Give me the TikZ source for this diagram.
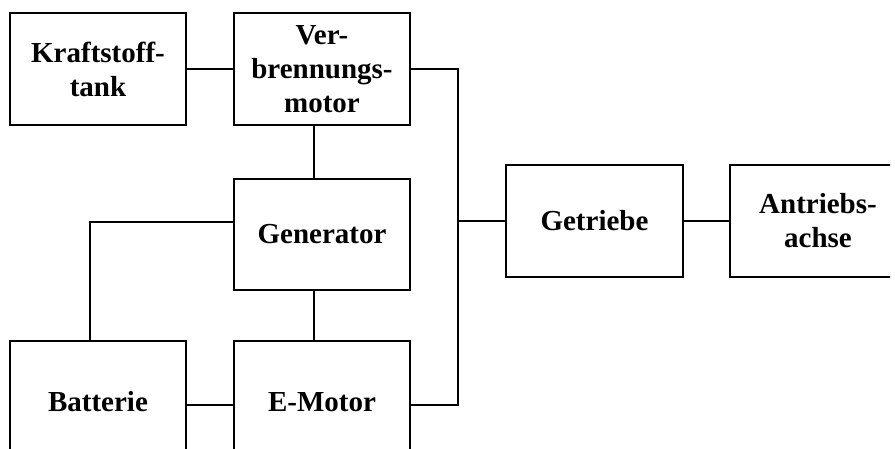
\documentclass[tikz,border=0pt]{standalone}
\usepackage{fontspec}
\setmainfont{Liberation Serif}
\begin{document}
\begin{tikzpicture}[x=1pt,y=-1pt,line width=1.8pt,
  block/.style={draw,rectangle,minimum width=176pt,minimum height=112pt,inner sep=0pt,align=center,
    font=\fontsize{29}{34}\selectfont\bfseries}]
\useasboundingbox (0,0) rectangle (895,448);
\clip (0,0) rectangle (890,448);
\node[block] (tank) at (98,69) {Kraftstoff-\\tank};
\node[block] (vm) at (322,69) {Ver-\\brennungs-\\motor};
\node[block,minimum height=111pt] (gen) at (322,234.5) {Generator};
\node[block,minimum height=122pt] (bat) at (98,402) {Batterie};
\node[block,minimum height=122pt] (em) at (322,402) {E-Motor};
\node[block,minimum width=177pt] (getr) at (594.5,221) {Getriebe};
\node[block,minimum width=200pt] (achse) at (830,221) {};
\node[font=\fontsize{29}{34}\selectfont\bfseries,align=center,inner sep=0pt] (achsetxt) at (818,221) {Antriebs-\\achse};
\coordinate (b1) at (458,69);
\coordinate (b2) at (458,405);
\coordinate (b3) at (458,221);
\draw (tank.east) -- (vm.west);
\draw ([xshift=-8pt]vm.south) -- ([xshift=-8pt]gen.north);
\draw ([xshift=-8pt]gen.south) -- ([xshift=-8pt]em.north);
\draw ([yshift=12.5pt]gen.west) -| ([xshift=-8pt]bat.north);
\draw ([yshift=-3pt]bat.east) -- ([yshift=-3pt]em.west);
\draw (vm.east) -- (b1) -- (b2) -- ([yshift=-3pt]em.east);
\draw (b3) -- (getr.west);
\draw (getr.east) -- (achse.west);
\end{tikzpicture}
\end{document}
